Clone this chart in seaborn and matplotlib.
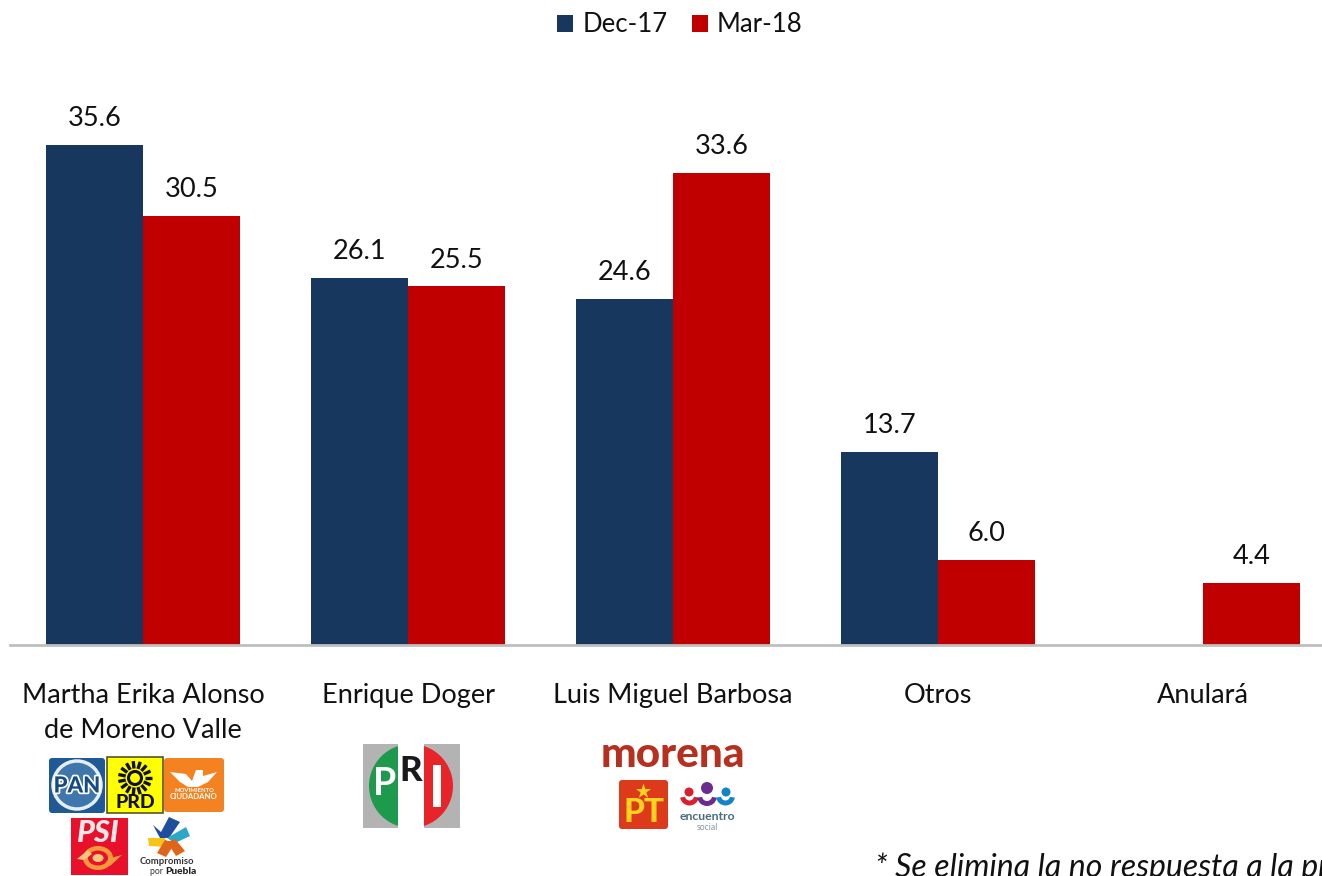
import numpy as np
import pandas as pd
import matplotlib
matplotlib.use('Agg')
import matplotlib.pyplot as plt
import matplotlib.patheffects as pe
import seaborn as sns
from matplotlib.patches import Circle, Ellipse, FancyBboxPatch, Polygon, Rectangle, Wedge

candidates = ['Martha Erika Alonso\nde Moreno Valle', 'Enrique Doger', 'Luis Miguel Barbosa', 'Otros', 'Anulará']
dec_17 = [35.6, 26.1, 24.6, 13.7, np.nan]
mar_18 = [30.5, 25.5, 33.6, 6.0, 4.4]
periods = ['Dec-17', 'Mar-18']
colors = ['#17375e', '#c00000']
footnote = '* Se elimina la no respuesta a la pregunta'

W, H = 1322, 876


def px_rect(left, top, right, bottom):
    return [left / W, 1 - bottom / H, (right - left) / W, (bottom - top) / H]


def box(ov, x0, y0, x1, y1, color, r=3, **kw):
    ov.add_patch(FancyBboxPatch((x0 + r, y0 + r), x1 - x0 - 2 * r, y1 - y0 - 2 * r,
                                boxstyle='round,pad={}'.format(r), fc=color, ec='none', **kw))


def label(ov, x, y, s, size, color, **kw):
    return ov.text(x, y, s, fontsize=size, color=color, ha='center', va='center', **kw)


def draw_pan_prd_mc(ov):
    box(ov, 49, 758, 105, 813, '#1f5a96')
    ov.add_patch(Circle((77, 785), 24, fc='#3f77ad', ec='#e6eef5', lw=2.5))
    t = label(ov, 77, 786, 'PAN', 16, '#174a80', fontweight='black')
    t.set_path_effects([pe.withStroke(linewidth=2.5, foreground='#ffffff')])

    ov.add_patch(Rectangle((107, 757), 56, 56, fc='#ffff00', ec='#55552a', lw=1.2))
    ov.add_patch(Circle((135, 778), 6.5, fc='#ffff00', ec='#111111', lw=2.2))
    for a in np.arange(0, 360, 24):
        t = np.radians(a)
        ov.plot([135 + 9.5 * np.cos(t), 135 + 17 * np.cos(t)], [778 + 9.5 * np.sin(t), 778 + 17 * np.sin(t)],
                color='#111111', lw=2.4, solid_capstyle='butt')
    label(ov, 135, 803, 'PRD', 14, '#111111', fontweight='black')

    box(ov, 164, 758, 224, 812, '#f58220')
    ov.add_patch(Polygon([(170, 772), (186, 774), (192, 781), (196, 770), (203, 770), (203, 776),
                          (217, 772), (208, 782), (198, 787), (188, 787), (180, 782)], fc='#ffffff', ec='none'))
    label(ov, 194, 790.5, 'MOVIMIENTO', 4.2, '#ffffff', fontweight='bold')
    label(ov, 194, 796.5, 'CIUDADANO', 5.6, '#ffffff', fontweight='bold')


def draw_psi_compromiso(ov):
    ov.add_patch(Rectangle((71, 818), 57, 57, fc='#e8102a', ec='none'))
    label(ov, 98, 833, 'PSI', 22, '#f6e8e8', fontweight='black', fontstyle='italic')
    ov.add_patch(Ellipse((98, 858), 30, 24, fc='#f39a3c', ec='none'))
    ov.add_patch(Ellipse((98, 858), 20, 15, fc='#e8102a', ec='none'))
    ov.add_patch(Ellipse((98, 858), 11, 8, fc='#f7c77e', ec='none'))
    ov.add_patch(Polygon([(77, 859), (88, 850), (92, 854), (84, 860)], fc='#f7c77e', ec='none'))
    ov.add_patch(Polygon([(122, 855), (110, 866), (106, 862), (114, 857)], fc='#f39a3c', ec='none'))

    ov.add_patch(Polygon([(153, 825), (161, 832), (169, 817), (180, 822), (169, 838), (160, 838)],
                         fc='#1f4e9c', ec='none'))
    ov.add_patch(Polygon([(167, 838), (186, 827), (190, 836), (175, 843)], fc='#2da7c8', ec='none'))
    ov.add_patch(Polygon([(148, 838), (165, 838), (166, 847), (149, 846)], fc='#f5c518', ec='none'))
    ov.add_patch(Polygon([(157, 853), (165, 840), (175, 843), (166, 857)], fc='#e0641a', ec='none'))
    ov.add_patch(Polygon([(167, 842), (175, 839), (185, 851), (176, 856)], fc='#e0641a', ec='none'))
    label(ov, 167, 862, 'Compromiso', 6.8, '#333333', fontweight='bold')
    ov.text(165, 871, 'por ', fontsize=6.2, color='#333333', ha='right', va='center')
    ov.text(165, 871, 'Puebla', fontsize=7.4, color='#222222', ha='left', va='center', fontweight='black')


def draw_pri(ov):
    ov.add_patch(Rectangle((363, 744), 97, 84, fc='#b3b3b3', ec='none'))
    cx, cy, r = 411, 786, 42
    clip_l = Rectangle((363, 744), 35, 84, transform=ov.transData)
    clip_r = Rectangle((424, 744), 36, 84, transform=ov.transData)
    green = Circle((cx, cy), r, fc='#1e9a4c', ec='none')
    red = Circle((cx, cy), r, fc='#e8232a', ec='none')
    ov.add_patch(green)
    ov.add_patch(red)
    green.set_clip_path(clip_l)
    red.set_clip_path(clip_r)
    ov.add_patch(Rectangle((398, 744), 26, 84, fc='#ffffff', ec='none'))
    label(ov, 385, 784, 'P', 27, '#ffffff', fontweight='bold')
    label(ov, 411, 771, 'R', 25, '#1a1a1a', fontweight='black')
    ov.add_patch(Rectangle((433, 765), 8, 42, fc='#ffffff', ec='none'))


def draw_morena(ov):
    label(ov, 673, 755, 'morena', 30.5, '#b5301f', fontweight='black')
    box(ov, 619, 780, 668, 829, '#dd3a1c', r=3)
    ov.scatter([643], [791], marker='*', s=130, color='#ffd21f', linewidths=0)
    label(ov, 644, 812, 'PT', 24, '#ffd21f', fontweight='black')
    for x, y, c, rad in [(689, 792, '#d8202f', 4.5), (707, 788, '#6a2c91', 6), (726, 792, '#1583c4', 4.5)]:
        ov.add_patch(Circle((x, y), rad, fc=c, ec='none'))
    for x0, x1, c in [(680, 699, '#d8202f'), (697, 717, '#6a2c91'), (716, 735, '#1583c4')]:
        ov.add_patch(Wedge(((x0 + x1) / 2, 796), (x1 - x0) / 2, 10, 170, width=5, fc=c, ec='none'))
    label(ov, 707, 817, 'encuentro', 8.8, '#4a6b7c', fontweight='bold')
    label(ov, 707, 828, 'social', 6.2, '#8a98a0')


sns.set_theme(style='white')
plt.rcParams['font.family'] = ['Lato', 'DejaVu Sans']

df = pd.DataFrame({'candidate': candidates * 2,
                   'period': [periods[0]] * len(candidates) + [periods[1]] * len(candidates),
                   'value': dec_17 + mar_18})

fig = plt.figure(figsize=(W / 100, H / 100), dpi=100, facecolor='white')
ax = fig.add_axes(px_rect(10, 60, W, 644.5))
sns.barplot(data=df, x='candidate', y='value', hue='period', order=candidates, hue_order=periods,
            palette=colors, width=0.732, gap=0, saturation=1, legend=False, errorbar=None, linewidth=0, ax=ax)
ax.set_xlim((10 - 143) / 265, (W - 143) / 265)
ax.set_ylim(0, 584.5 / 14.04)
ax.set_xlabel('')
ax.set_ylabel('')
ax.set_yticks([])
ax.tick_params(axis='x', length=0, pad=27.5, labelsize=19.5, colors='#111111')
for tl in ax.get_xticklabels():
    tl.set_linespacing(1.5)
for s in ['top', 'left', 'right']:
    ax.spines[s].set_visible(False)
ax.spines['bottom'].set_color('#bfbfbf')
ax.spines['bottom'].set_linewidth(2)
for cont in ax.containers:
    ax.bar_label(cont, fmt='%.1f', padding=10, fontsize=19.5, color='#111111')

handles = [Rectangle((0, 0), 1, 1, fc=c, ec='none') for c in colors]
fig.legend(handles, periods, loc='center', bbox_to_anchor=(680 / W, 1 - 25 / H), ncol=2, frameon=False,
           fontsize=18.5, handlelength=0.62, handleheight=0.62, handletextpad=0.35, columnspacing=0.95,
           labelcolor='#111111')

ov = fig.add_axes([0, 0, 1, 1], zorder=5)
ov.set_xlim(0, W)
ov.set_ylim(H, 0)
ov.axis('off')
ov.patch.set_alpha(0)
draw_pan_prd_mc(ov)
draw_psi_compromiso(ov)
draw_pri(ov)
draw_morena(ov)

fig.text(875 / W, 1 - 877 / H, footnote, fontsize=23, fontstyle='italic', color='#111111', ha='left', va='baseline')

fig.savefig('out.png', dpi=100)
